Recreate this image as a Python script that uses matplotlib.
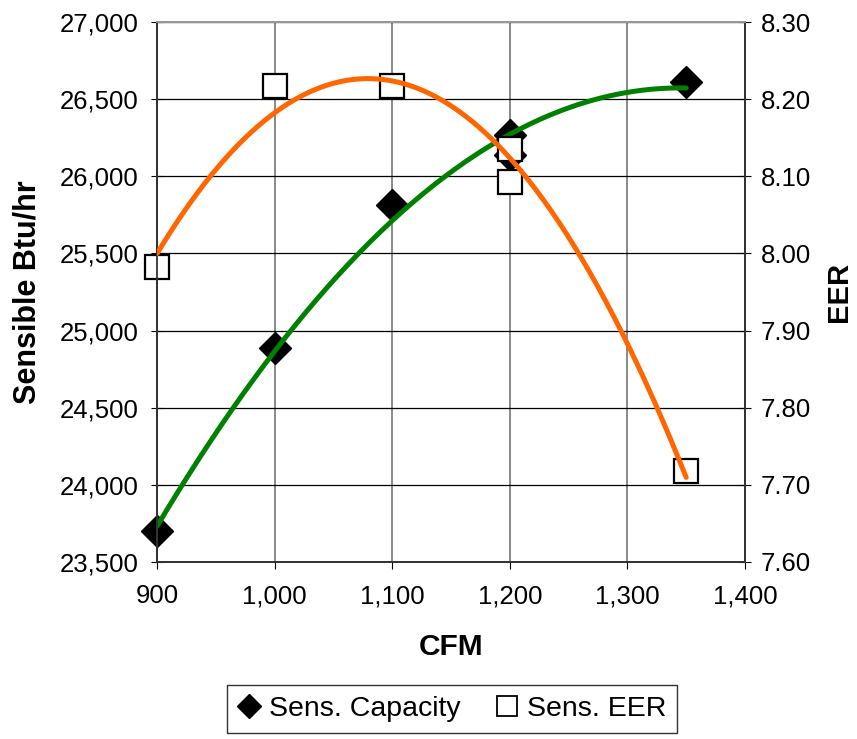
import numpy as np
import matplotlib.pyplot as plt
from matplotlib.lines import Line2D
from matplotlib.ticker import FuncFormatter, MultipleLocator

plt.rcParams['font.family'] = ['Liberation Sans', 'DejaVu Sans']

# data
cfm = [900, 1000, 1100, 1200, 1200, 1350]
sens_capacity = [23700, 24890, 25815, 26270, 26140, 26610]
sens_eer = [7.983, 8.217, 8.217, 8.136, 8.092, 7.718]

# 2nd order trendlines, like the spreadsheet did
xfit = np.linspace(min(cfm), max(cfm), 200)
cap_fit = np.polyval(np.polyfit(cfm, sens_capacity, 2), xfit)
eer_fit = np.polyval(np.polyfit(cfm, sens_eer, 2), xfit)

fig = plt.figure(figsize=(8.57, 7.39), dpi=100)
ax = fig.add_axes([157 / 857, 1 - 562 / 739, 588 / 857, 540 / 739])
ax2 = ax.twinx()

ax.plot(cfm, sens_capacity, linestyle='none', marker='D', markersize=16,
        color='black', zorder=2, clip_on=False)
ax.plot(xfit, cap_fit, color='#008000', linewidth=3.6, zorder=3,
        solid_capstyle='round')

ax2.plot(cfm, sens_eer, linestyle='none', marker='s', markersize=17,
         markerfacecolor='white', markeredgecolor='black', markeredgewidth=1.6,
         zorder=2, clip_on=False)
ax2.plot(xfit, eer_fit, color='#FF6600', linewidth=3.6, zorder=3,
         solid_capstyle='round')

ax.set_xlim(900, 1400)
ax.set_ylim(23500, 27000)
ax2.set_ylim(7.60, 8.30)

ax.xaxis.set_major_locator(MultipleLocator(100))
ax.yaxis.set_major_locator(MultipleLocator(500))
ax2.yaxis.set_major_locator(MultipleLocator(0.1))
ax.xaxis.set_major_formatter(FuncFormatter(lambda v, p: f"{v:,.0f}"))
ax.yaxis.set_major_formatter(FuncFormatter(lambda v, p: f"{v:,.0f}"))
ax2.yaxis.set_major_formatter(FuncFormatter(lambda v, p: f"{v:.2f}"))

ax.tick_params(axis='x', direction='out', length=5, labelsize=18.5, pad=11)
ax.tick_params(axis='y', direction='inout', length=9, labelsize=18.5, pad=9)
ax2.tick_params(axis='y', direction='inout', length=9, labelsize=18.5, pad=7)

ax.grid(axis='x', color='#808080', linewidth=1.3)
ax.grid(axis='y', color='black', linewidth=0.9)
ax.set_axisbelow(True)

for a in (ax, ax2):
    for s in a.spines.values():
        s.set_color('#333333')
        s.set_linewidth(1.3)
    a.spines['top'].set_color('#999999')

ax.set_xlabel('CFM', fontsize=21.5, fontweight='bold', labelpad=18)
ax.set_ylabel('Sensible Btu/hr', fontsize=22, fontweight='bold', labelpad=12)
ax2.set_ylabel('EER', fontsize=21, fontweight='bold', labelpad=10)

handles = [
    Line2D([], [], linestyle='none', marker='D', markersize=12, color='black'),
    Line2D([], [], linestyle='none', marker='s', markersize=15,
           markerfacecolor='white', markeredgecolor='black', markeredgewidth=1.3),
]
leg = fig.legend(handles, ['Sens. Capacity', 'Sens. EER'], ncol=2,
                 loc='center', bbox_to_anchor=(452 / 857, 1 - 709 / 739),
                 fontsize=20.5, frameon=True, fancybox=False, edgecolor='black',
                 handlelength=0.8, handletextpad=0.3, columnspacing=1.2,
                 borderpad=0.4, borderaxespad=0.0)
leg.get_frame().set_linewidth(1.0)

fig.savefig('out.png', dpi=100)
